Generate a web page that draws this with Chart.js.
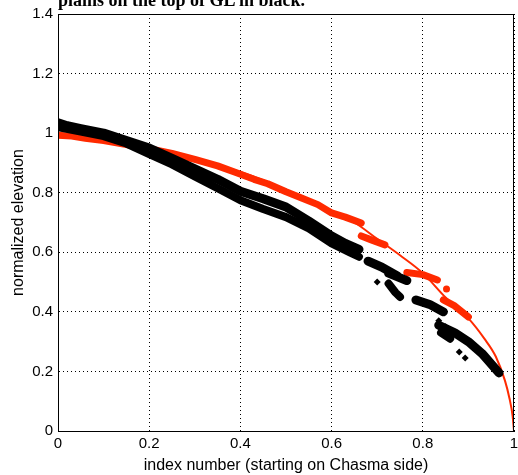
<!DOCTYPE html>
<html>
<head>
<meta charset="utf-8">
<script src="https://cdn.jsdelivr.net/npm/chart.js@4.4.1/dist/chart.umd.min.js"></script>
<style>
  html, body { margin: 0; padding: 0; background: #fff; overflow: hidden; }
  #wrap { position: relative; width: 518px; height: 475px; }
  #note { position: absolute; top: -9px; right: 213px; white-space: nowrap;
          font: bold 18px "Liberation Serif", serif; line-height: 18px; color: #000; }
</style>
</head>
<body>
<div id="wrap">
  <canvas id="elevChart" width="518" height="475"></canvas>
  <div id="note">plains on the top of GL in black.</div>
</div>
<script>
// tick values
const xTicks = [0, 0.2, 0.4, 0.6, 0.8, 1];
const yTicks = [0, 0.2, 0.4, 0.6, 0.8, 1, 1.2, 1.4];

// red: thin profile line + thicker measured patches
const redLine = [
    [0, 0.99], [0.1, 0.975], [0.2, 0.948], [0.3, 0.91], [0.4, 0.87], [0.5, 0.81],
    [0.6, 0.735], [0.65, 0.7], [0.7, 0.645], [0.75, 0.59], [0.8, 0.53], [0.85, 0.448],
    [0.9, 0.378], [0.935, 0.31], [0.96, 0.25], [0.98, 0.17], [0.99, 0.11], [0.997, 0.05], [1, 0]
];
const redPatches = [
    [0, 0.993], [0.03, 0.99], [0.06, 0.983], [0.1, 0.975], [0.15, 0.962], [0.2, 0.948],
    [0.25, 0.932], [0.3, 0.912], [0.35, 0.89], [0.39, 0.868], [0.43, 0.845], [0.46, 0.83],
    [0.5, 0.803], [0.53, 0.785], [0.57, 0.76], [0.6, 0.732], [0.63, 0.718], [0.665, 0.698], null,
    [0.665, 0.655], [0.69, 0.64], [0.717, 0.625], null,
    [0.765, 0.532], [0.8, 0.525], [0.832, 0.507], null,
    [0.845, 0.44], [0.87, 0.42], [0.9, 0.383], null,
    [0.852, 0.477]
];

// black: two strands of points plus a few loose ones
const blackUpper = [
    [0, 1.035], [0.02, 1.025], [0.05, 1.015], [0.1, 1.0], [0.15, 0.975], [0.2, 0.95],
    [0.25, 0.915], [0.3, 0.88], [0.35, 0.845], [0.4, 0.805], [0.45, 0.78], [0.5, 0.752],
    [0.55, 0.705], [0.6, 0.655], [0.63, 0.63], [0.66, 0.61], null,
    [0.68, 0.57], [0.71, 0.55], [0.745, 0.52], null,
    [0.725, 0.53], [0.765, 0.505], null,
    [0.785, 0.44], [0.815, 0.425], [0.845, 0.4], null,
    [0.835, 0.355], [0.87, 0.33], [0.9, 0.3], [0.93, 0.26], [0.967, 0.195]
];
const blackLower = [
    [0, 1.02], [0.05, 1.005], [0.1, 0.99], [0.15, 0.965], [0.2, 0.93], [0.25, 0.895],
    [0.3, 0.855], [0.35, 0.815], [0.4, 0.775], [0.45, 0.745], [0.5, 0.718], [0.55, 0.68],
    [0.6, 0.63], [0.64, 0.6], [0.66, 0.585], null,
    [0.725, 0.495], [0.74, 0.465], [0.75, 0.45], null,
    [0.84, 0.33], [0.86, 0.31]
];
const blackDots = [
    [0.88, 0.265], [0.893, 0.245], [0.835, 0.37], [0.85, 0.35], [0.7, 0.5], [0.73, 0.49]
];

function toXY(arr) {
    return arr.map(p => p ? { x: p[0], y: p[1] } : { x: null, y: null });
}

const frame = {
    id: 'frame',
    afterDraw(chart) {
        const a = chart.chartArea, c = chart.ctx;
        c.save();
        c.strokeStyle = '#000';
        c.lineWidth = 1;
        c.strokeRect(a.left + 0.5, a.top + 0.5, a.right - a.left - 1, a.bottom - a.top);
        c.restore();
    }
};

const ctx = document.getElementById('elevChart').getContext('2d');
new Chart(ctx, {
    type: 'scatter',
    data: {
        datasets: [
            { data: toXY(blackDots), showLine: false, pointStyle: 'rectRot', pointRadius: 3.5,
              backgroundColor: '#000', borderColor: '#000', borderWidth: 0 },
            { data: toXY(blackUpper), showLine: true, spanGaps: false, borderColor: '#000',
              borderWidth: 9, pointRadius: 0, borderCapStyle: 'round', borderJoinStyle: 'round' },
            { data: toXY(blackLower), showLine: true, spanGaps: false, borderColor: '#000',
              borderWidth: 8, pointRadius: 0, borderCapStyle: 'round', borderJoinStyle: 'round' },
            { data: toXY(redPatches), showLine: true, spanGaps: false, borderColor: '#ff2a00',
              backgroundColor: '#ff2a00', borderWidth: 7, pointRadius: 0,
              borderCapStyle: 'round', borderJoinStyle: 'round' },
            { data: toXY(redLine), showLine: true, borderColor: '#ff2a00', borderWidth: 2,
              pointRadius: 0, cubicInterpolationMode: 'monotone' }
        ]
    },
    options: {
        responsive: false,
        animation: false,
        layout: { padding: { top: 14, right: 1, left: 0, bottom: 0 } },
        plugins: {
            legend: { display: false },
            tooltip: { enabled: false }
        },
        scales: {
            x: {
                type: 'linear', min: 0, max: 1,
                afterBuildTicks: s => { s.ticks = xTicks.map(v => ({ value: v })); },
                afterFit: s => { s.height = 44; s.paddingLeft = 0; s.paddingRight = 0; },
                ticks: { color: '#000', padding: 4, maxRotation: 0,
                         font: { family: 'Liberation Sans', size: 15 },
                         callback: v => String(v) },
                grid: { color: '#000', lineWidth: 1, drawTicks: false },
                border: { display: true, color: '#000', dash: [1, 3] },
                title: { display: true, text: 'index number (starting on Chasma side)',
                         color: '#000', padding: { top: 1, bottom: 0 },
                         font: { family: 'Liberation Sans', size: 16 } }
            },
            y: {
                type: 'linear', min: 0, max: 1.4,
                afterBuildTicks: s => { s.ticks = yTicks.map(v => ({ value: v })); },
                afterFit: s => { s.width = 58; s.paddingTop = 0; s.paddingBottom = 0; },
                ticks: { color: '#000', padding: 5,
                         font: { family: 'Liberation Sans', size: 15 },
                         callback: v => String(v) },
                grid: { color: '#000', lineWidth: 1, drawTicks: false },
                border: { display: true, color: '#000', dash: [1, 3] },
                title: { display: true, text: 'normalized elevation', color: '#000',
                         padding: { top: 9, bottom: 0 },
                         font: { family: 'Liberation Sans', size: 16 } }
            }
        }
    },
    plugins: [frame]
});
</script>
</body>
</html>
